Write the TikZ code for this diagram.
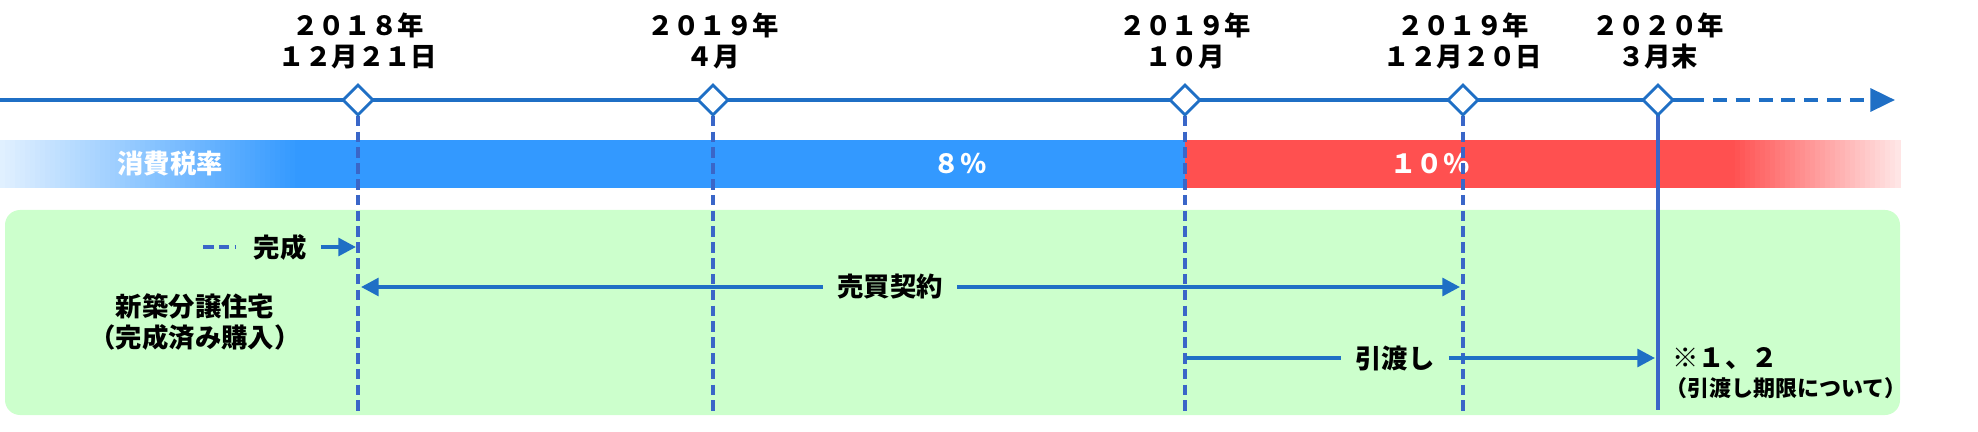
\documentclass[tikz,border=0pt]{standalone}
\usepackage{fontspec}
\setmainfont{Noto Sans CJK JP}
\usetikzlibrary{arrows.meta}
\definecolor{tl}{HTML}{1F6FC5}
\definecolor{bb}{HTML}{3399FF}
\definecolor{rr}{HTML}{FF5050}
\definecolor{dl}{HTML}{3A66C8}
\definecolor{gb}{HTML}{CCFFCC}
\begin{document}
\begin{tikzpicture}[x=0.02cm,y=-0.02cm,
  lab/.style={font=\fontsize{15}{18}\selectfont\bfseries,inner sep=0pt,align=center},
  dia/.style={draw=tl,fill=white,line width=1.6pt,minimum size=0.42cm,inner sep=0pt,rotate=45,shape=rectangle},
  vd/.style={dl,line width=2.4pt,dash pattern=on 6pt off 3pt},
  arr/.style={tl,line width=2.2pt,-{Triangle[length=10pt,width=10pt]}}]
\useasboundingbox (0,0) rectangle (1978,432);
% green box
\fill[gb,rounded corners=0.3cm] (5,210) rectangle (1900,415);
% tax bar
\foreach \i in {0,...,59}{
  \pgfmathsetmacro\p{15+85*\i/59}
  \fill[bb!\p] (\i*5,140) rectangle (\i*5+5.5,188);
}
\fill[bb] (299,140) rectangle (1185,188);
\fill[rr] (1185,140) rectangle (1731,188);
\foreach \i in {0,...,33}{
  \pgfmathsetmacro\p{100-85*\i/33}
  \fill[rr!\p] (1730+\i*5,140) rectangle (1730+\i*5+5.5,188);
}
\node[lab,white] at (170,164) {消費税率};
\node[lab,white] at (960,164) {８％};
\node[lab,white] at (1430,164) {１０％};
% timeline
\coordinate (t0) at (0,100);
\coordinate (t1) at (1690,100);
\coordinate (t2) at (1895,100);
\draw[tl,line width=2.2pt] (t0) -- (t1);
\draw[tl,line width=2.2pt,dash pattern=on 8pt off 5pt,-{Triangle[length=14pt,width=13pt]}] (t1) -- (t2);
% verticals
\foreach \n/\x in {a/358,b/713,c/1185,d/1463}{
  \coordinate (\n b) at (\x,415);
  \draw[vd] (\x,100) -- (\n b);
}
\coordinate (eb) at (1658,410);
\draw[dl,line width=2.4pt] (1658,100) -- (eb);
\foreach \n/\x in {a/358,b/713,c/1185,d/1463,e/1658}{
  \node[dia] (\n) at (\x,100) {};
}
\node[lab] at (358,41) {２０１８年\\１２月２１日};
\node[lab] at (713,41) {２０１９年\\４月};
\node[lab] at (1185,41) {２０１９年\\１０月};
\node[lab] at (1463,41) {２０１９年\\１２月２０日};
\node[lab] at (1658,41) {２０２０年\\３月末};
% legend
\coordinate (l1) at (203,247); \coordinate (l2) at (236,247);
\draw[vd] (l1) -- (l2);
\node[lab] (kan) at (280,247) {完成};
\coordinate (k2) at (356,247);
\draw[arr] (kan.east)++(8pt,0) -- (k2);
\node[lab] at (195,322) {新築分譲住宅\\（完成済み購入）};
% sales contract
\node[lab] (bb1) at (890,287) {売買契約};
\coordinate (s1) at (361,287); \coordinate (s2) at (1460,287);
\draw[arr] (bb1.west)++(-8pt,0) -- (s1);
\draw[arr] (bb1.east)++(8pt,0) -- (s2);
% delivery
\node[lab] (hk) at (1395,358) {引渡し};
\coordinate (h1) at (1186,358); \coordinate (h2) at (1655,358);
\draw[tl,line width=2.2pt] (h1) -- ([xshift=-8pt]hk.west);
\draw[arr] ([xshift=8pt]hk.east) -- (h2);
\node[lab,anchor=west] at (1672,358) {※１、２};
\node[lab,anchor=west,font=\fontsize{12.5}{15}\selectfont\bfseries] at (1665,388) {（引渡し期限について）};
\end{tikzpicture}
\end{document}
